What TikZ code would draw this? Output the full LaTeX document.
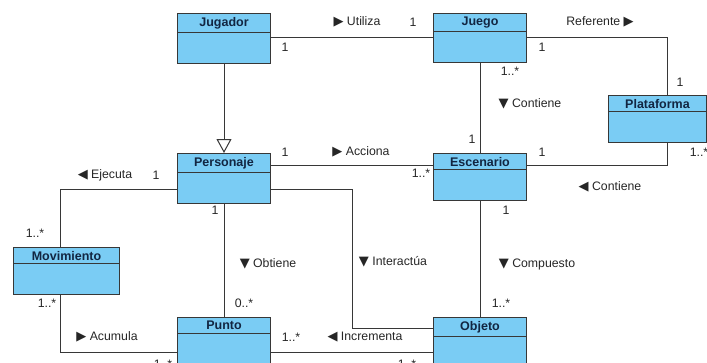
\documentclass[tikz,border=0pt]{standalone}
\usepackage{fontspec}
\setmainfont{Liberation Sans}
\newfontfamily\trifont{DejaVu Sans}
\usetikzlibrary{shapes.multipart,arrows.meta}
\definecolor{clsfill}{RGB}{122,204,244}
\definecolor{clstext}{RGB}{18,38,66}
\definecolor{linecol}{RGB}{55,55,55}
% direction marks of the associations
\newcommand{\triR}{{\trifont\fontsize{13}{14}\selectfont ▶}}
\newcommand{\triL}{{\trifont\fontsize{13}{14}\selectfont ◀}}
\newcommand{\triD}{{\trifont\fontsize{13}{14}\selectfont ▼}}
\newcommand{\clsbody}{\nodepart{second}\rule{0pt}{24pt}}
\begin{document}
\begin{tikzpicture}[x=1pt,y=-1pt,
	cls/.style={rectangle split, rectangle split parts=2, draw=linecol, line width=1pt,
		fill=clsfill, text width=93pt, align=center, inner xsep=0pt, inner ysep=3pt,
		anchor=north west, text=clstext, font=\fontsize{12.5}{15}\selectfont\bfseries},
	assoc/.style={draw=linecol, line width=1pt},
	lbl/.style={font=\fontsize{12.3}{14}\selectfont, text=black!85, inner sep=0pt}]
	\useasboundingbox (0,0) rectangle (707,362);
	% classes
		\node[cls] (jugador) at (177,13) {Jugador\clsbody};
		\node[cls] (juego) at (433,13) {Juego\clsbody};
		\node[cls, text width=98pt] (plataforma) at (608,95) {Plataforma\clsbody};
		\node[cls] (personaje) at (177,153) {Personaje\clsbody};
		\node[cls] (escenario) at (433,153) {Escenario\clsbody};
		\node[cls, text width=106pt] (movimiento) at (13,247) {Movimiento\clsbody};
		\node[cls] (punto) at (177,317) {Punto\clsbody};
		\node[cls] (objeto) at (433,317) {Objeto\clsbody};
	% inheritance
		\draw[assoc, -{Triangle[open, fill=white, length=14pt, width=15pt]}] (jugador.south) -- (personaje.north);
	% associations
		\draw[assoc] ([yshift=-24pt]jugador.north east) -- ([yshift=-24pt]juego.north west);
		\draw[assoc] ([yshift=-24pt]juego.north east) -| ([xshift=10pt]plataforma.north);
		\draw[assoc] (juego.south) -- (escenario.north);
		\draw[assoc] ([yshift=-12pt]escenario.north east) -| ([xshift=10pt]plataforma.south);
		\draw[assoc] ([yshift=-12pt]personaje.north east) -- ([yshift=-12pt]escenario.north west);
		\draw[assoc] ([yshift=-36pt]personaje.north west) -| ([xshift=-6pt]movimiento.north);
		\draw[assoc] (personaje.south) -- (punto.north);
		\draw[assoc] ([yshift=-36pt]personaje.north east) -| ([xshift=-81pt,yshift=-11pt]objeto.north west)
			-- ([yshift=-11pt]objeto.north west);
		\draw[assoc] (escenario.south) -- (objeto.north);
		\draw[assoc] ([xshift=-6pt]movimiento.south) |- ([yshift=-35pt]punto.north west);
		\draw[assoc] ([yshift=-35pt]punto.north east) -- ([yshift=-35pt]objeto.north west);
	% names and multiplicities
		\foreach \x/\y/\t [count=\i] in {
			285/47/1, 357/22/\triR\ Utiliza, 413/22/1,
			600/22/Referente \triR, 542/47/1, 680/82/1,
			510/71/1..*, 530/104/\triD\ Contiene, 472/139/1,
			542/152/1, 699/152/1..*, 610/187/\triL\ Contiene,
			285/152/1, 361/152/\triR\ Acciona, 421/173/1..*,
			105/175/\triL\ Ejecuta, 156/175/1, 35/233/1..*,
			215/210/1, 268/264/\triD\ Obtiene, 244/303/0..*,
			393/262/\triD\ Interactúa,
			506/210/1, 537/264/\triD\ Compuesto, 501/303/1..*,
			47/303/1..*, 107/337/\triR\ Acumula, 163/364/1..*,
			291/337/1..*, 365/337/\triL\ Incrementa, 407/364/1..*}{
			\node[lbl] (lab\i) at (\x,\y) {\t};
			}
\end{tikzpicture}
\end{document}
